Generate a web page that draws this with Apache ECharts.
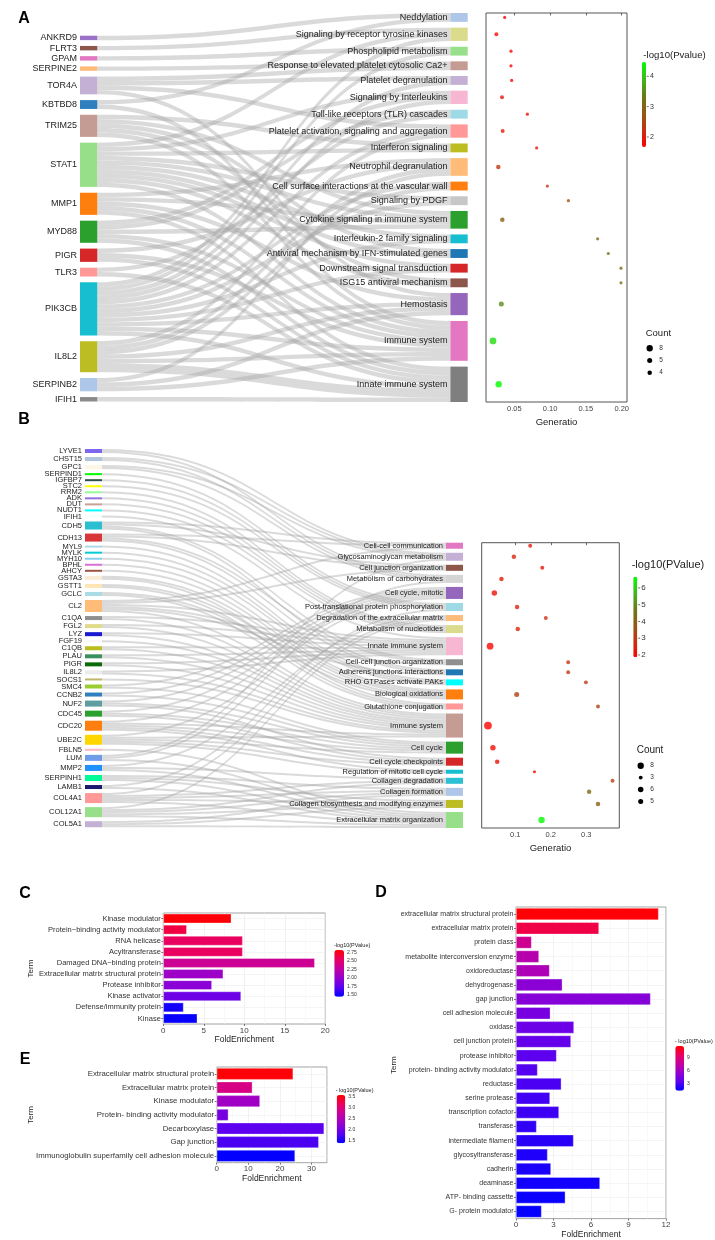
<!DOCTYPE html>
<html><head><meta charset="utf-8">
<script src="https://cdn.jsdelivr.net/npm/echarts@6/dist/echarts.min.js"></script>
<style>html,body{margin:0;padding:0;background:#fff}#c{width:715px;height:1240px}</style>
</head><body><div id="c"></div>
<script>
// ================= DATA =================
// ---- Panel A (Sankey + dot plot) ----
const genesA = ['ANKRD9','FLRT3','GPAM','SERPINE2','TOR4A','KBTBD8','TRIM25','STAT1','MMP1','MYD88','PIGR','TLR3','PIK3CB','IL8L2','SERPINB2','IFIH1'];
const pathwaysA = ['Neddylation','Signaling by receptor tyrosine kinases','Phospholipid metabolism','Response to elevated platelet cytosolic Ca2+','Platelet degranulation','Signaling by Interleukins','Toll-like receptors (TLR) cascades','Platelet activation, signaling and aggregation','Interferon signaling','Neutrophil degranulation','Cell surface interactions at the vascular wall','Signaling by PDGF','Cytokine signaling in immune system','Interleukin-2 family signaling','Antiviral mechanism by IFN-stimulated genes','Downstream signal transduction','ISG15 antiviral mechanism','Hemostasis','Immune system','Innate immune system'];
const linksA = [
 ['ANKRD9','Neddylation',1],['KBTBD8','Neddylation',1],
 ['FLRT3','Signaling by receptor tyrosine kinases',1],['STAT1','Signaling by receptor tyrosine kinases',1],['PIK3CB','Signaling by receptor tyrosine kinases',1],
 ['GPAM','Phospholipid metabolism',1],['PIK3CB','Phospholipid metabolism',1],
 ['SERPINE2','Response to elevated platelet cytosolic Ca2+',1],['TOR4A','Response to elevated platelet cytosolic Ca2+',1],
 ['TOR4A','Platelet degranulation',1],['PIK3CB','Platelet degranulation',1],
 ['STAT1','Signaling by Interleukins',1],['MYD88','Signaling by Interleukins',1],['PIK3CB','Signaling by Interleukins',1],
 ['MYD88','Toll-like receptors (TLR) cascades',1],['TLR3','Toll-like receptors (TLR) cascades',1],
 ['TOR4A','Platelet activation, signaling and aggregation',1],['PIK3CB','Platelet activation, signaling and aggregation',1],['IL8L2','Platelet activation, signaling and aggregation',1],
 ['TRIM25','Interferon signaling',1],['STAT1','Interferon signaling',1],
 ['MMP1','Neutrophil degranulation',1],['PIGR','Neutrophil degranulation',1],['IL8L2','Neutrophil degranulation',1],['SERPINB2','Neutrophil degranulation',1],
 ['PIK3CB','Cell surface interactions at the vascular wall',1],['IL8L2','Cell surface interactions at the vascular wall',1],
 ['STAT1','Signaling by PDGF',1],['PIK3CB','Signaling by PDGF',1],
 ['TRIM25','Cytokine signaling in immune system',1],['STAT1','Cytokine signaling in immune system',1],['MMP1','Cytokine signaling in immune system',1],['MYD88','Cytokine signaling in immune system',1],
 ['STAT1','Interleukin-2 family signaling',1],['PIK3CB','Interleukin-2 family signaling',1],
 ['TRIM25','Antiviral mechanism by IFN-stimulated genes',1],['STAT1','Antiviral mechanism by IFN-stimulated genes',1],
 ['STAT1','Downstream signal transduction',1],['PIK3CB','Downstream signal transduction',1],
 ['TRIM25','ISG15 antiviral mechanism',1],['STAT1','ISG15 antiviral mechanism',1],
 ['TOR4A','Hemostasis',1],['MMP1','Hemostasis',1],['PIK3CB','Hemostasis',1],['IL8L2','Hemostasis',1],['SERPINB2','Hemostasis',1],
 ['KBTBD8','Immune system',1],['TRIM25','Immune system',1],['STAT1','Immune system',1],['MMP1','Immune system',1],['MYD88','Immune system',1],['PIGR','Immune system',1],['PIK3CB','Immune system',1],['IL8L2','Immune system',1],['SERPINB2','Immune system',1],
 ['MMP1','Innate immune system',1],['MYD88','Innate immune system',1],['PIGR','Innate immune system',1],['TLR3','Innate immune system',1],['PIK3CB','Innate immune system',1],['IL8L2','Innate immune system',2],['IFIH1','Innate immune system',1]
];
const generatioA = [0.0365,0.0249,0.0453,0.0453,0.0463,0.0328,0.0682,0.0337,0.0812,0.0276,0.0961,0.1255,0.0332,0.1664,0.1813,0.199,0.199,0.0318,0.0202,0.0281];
const log10pA = [1.72,1.78,1.72,1.72,1.74,1.9,1.85,1.95,2.0,2.3,2.25,2.6,2.85,3.05,3.1,3.2,3.2,3.55,4.2,4.45];
const genTicksA = [0.05,0.10,0.15,0.20];
const colorTicksA = [2,3,4];
const countLegendA = [8,5,4];

// ---- Panel B (Sankey + dot plot) ----
const genesB = ['LYVE1','CHST15','GPC1','SERPIND1','IGFBP7','STC2','RRM2','ADK','DUT','NUDT1','IFIH1','CDH5','CDH13','MYL9','MYLK','MYH10','BPHL','AHCY','GSTA3','GSTT1','GCLC','CL2','C1QA','FGL2','LYZ','FGF19','C1QB','PLAU','PIGR','IL8L2','SOCS1','SMC4','CCNB2','NUF2','CDC45','CDC20','UBE2C','FBLN5','LUM','MMP2','SERPINH1','LAMB1','COL4A1','COL12A1','COL5A1'];
const pathwaysB = ['Cell-cell communication','Glycosaminoglycan metabolism','Cell junction organization','Metabolism of carbohydrates','Cell cycle, mitotic','Post-translational protein phosphorylation','Degradation of the extracellular matrix','Metabolism of nucleotides','Innate immune system','Cell-cell junction organization','Adherens junctions interactions','RHO GTPases activate PAKs','Biological oxidations','Glutathione conjugation','Immune system','Cell cycle','Cell cycle checkpoints','Regulation of mitotic cell cycle','Collagen degradation','Collagen formation','Collagen biosynthesis and modifying enzymes','Extracellular matrix organization'];
const membersB = [
 ['CDH5','CDH13','CL2'],
 ['LYVE1','CHST15','GPC1','LUM'],
 ['CDH5','CDH13','CL2'],
 ['LYVE1','CHST15','GPC1','LUM'],
 ['SMC4','CCNB2','NUF2','CDC45','CDC20','UBE2C'],
 ['SERPIND1','IGFBP7','STC2','LAMB1'],
 ['MMP2','COL4A1','COL12A1'],
 ['RRM2','ADK','DUT','NUDT1'],
 ['IFIH1','CL2','C1QA','FGL2','LYZ','C1QB','PLAU','PIGR','IL8L2'],
 ['CDH5','CDH13','CL2'],
 ['CDH5','CDH13','CL2'],
 ['MYL9','MYLK','MYH10'],
 ['BPHL','AHCY','GSTA3','GSTT1','GCLC'],
 ['GSTA3','GSTT1','GCLC'],
 ['CL2','C1QA','FGL2','LYZ','FGF19','C1QB','PLAU','PIGR','IL8L2','SOCS1','CDC20','UBE2C'],
 ['SMC4','CCNB2','NUF2','CDC45','CDC20','UBE2C'],
 ['NUF2','CDC45','CDC20','UBE2C'],
 ['CDC20','UBE2C'],
 ['MMP2','COL4A1','COL12A1'],
 ['COL4A1','COL12A1','COL5A1','SERPINH1'],
 ['COL4A1','COL12A1','COL5A1','SERPINH1'],
 ['LUM','MMP2','SERPINH1','LAMB1','COL4A1','COL12A1','COL5A1','FBLN5']
];
const generatioB = [0.142,0.096,0.176,0.061,0.041,0.105,0.186,0.107,0.029,0.249,0.249,0.299,0.104,0.333,0.023,0.037,0.049,0.154,0.374,0.308,0.333,0.174];
const log10pB = [2.3,2.6,2.3,2.4,2.2,2.6,2.7,2.6,2.0,2.9,2.9,3.0,3.2,3.2,1.95,2.1,2.1,1.95,3.1,4.2,4.0,6.6];
const genTicksB = [0.1,0.2,0.3];
const colorTicksB = [2,3,4,5,6];
const countLegendB = [8,3,6,5];

// ---- Panel C ----
const termsC = ['Kinase modulator','Protein\u2212binding activity modulator','RNA helicase','Acyltransferase','Damaged DNA\u2212binding protein','Extracellular matrix structural protein','Protease inhibitor','Kinase activator','Defense/immunity protein','Kinase'];
const foldC = [8.4,2.9,9.8,9.8,18.7,7.4,6.0,9.6,2.5,4.2];
const log10pC = [2.80,2.63,2.55,2.55,2.33,2.05,1.95,1.82,1.50,1.47];
const colorTicksC = [1.5,1.75,2.0,2.25,2.5,2.75];

// ---- Panel D ----
const termsD = ['extracellular matrix structural protein','extracellular matrix protein','protein class','metabolite interconversion enzyme','oxidoreductase','dehydrogenase','gap junction','cell adhesion molecule','oxidase','cell junction protein','protease inhibitor','protein- binding activity modulator','reductase','serine protease','transcription cofactor','transferase','intermediate filament','glycosyltransferase','cadherin','deaminase','ATP- binding cassette','G- protein modulator'];
const foldD = [11.41,6.64,1.25,1.84,2.69,3.71,10.77,2.75,4.64,4.40,3.25,1.73,3.63,2.72,3.44,1.65,4.61,2.53,2.80,6.72,3.95,2.05];
const log10pD = [11.6,10.2,8.1,7.0,6.6,5.2,5.0,4.5,4.1,3.8,3.5,3.3,3.1,2.9,2.8,2.5,2.3,2.1,2.0,1.8,1.6,1.5];
const colorTicksD = [3,6,9];

// ---- Panel E ----
const termsE = ['Extracellular matrix structural protein','Extracellular matrix protein','Kinase modulator','Protein- binding activity modulator','Decarboxylase','Gap junction','Immunoglobulin superfamily cell adhesion molecule'];
const foldE = [24.2,11.3,13.7,3.7,34.0,32.3,24.8];
const log10pE = [3.55,2.90,2.38,2.05,1.85,1.77,1.42];
const colorTicksE = [1.5,2.0,2.5,3.0,3.5];

// ================= STYLES / LAYOUT =================
const FF = 'Liberation Sans, Arial, Helvetica, sans-serif';
const geneColorsA = ['#9a72c8','#8c564b','#e377c2','#ffbb78','#c5b0d5','#2f7fbf','#c49c94','#98df8a','#ff7f0e','#2ca02c','#d62728','#ff9896','#17becf','#bcbd22','#aec7e8','#8a8a8a'];
const pathColorsA = ['#aec7e8','#dbdb8d','#98df8a','#c49c94','#c5b0d5','#f7b6d2','#9edae5','#ff9896','#bcbd22','#ffbb78','#ff7f0e','#c7c7c7','#2ca02c','#17becf','#1f77b4','#d62728','#8c564b','#9467bd','#e377c2','#7f7f7f'];
const geneColorsB = ['#7b68ee','#b0c4de','#fdf5e6','#00ff00','#2f4f4f','#ffff00','#98fb98','#9370db','#c9a097','#00ffff','#f0ffff','#2bbfd0','#d9363a','#add8e6','#00ced1','#87ceeb','#da70d6','#9a5448','#faebd7','#ffe4b5','#a8dbe3','#ffbb78','#8f8f8f','#e0dc8c','#1a1ad0','#f8f8ff','#bcbd22','#3c8f5f','#0a6a0a','#ececec','#bdb76b','#9acd32','#2f7fbf','#5f9ea0','#2ca02c','#ff7f0e','#ffd700','#ffb6c1','#6f9ce8','#1e90ff','#00fa9a','#191970','#ff9896','#98df8a','#c5b0d5'];
const pathColorsB = ['#e377c2','#c5b0d5','#8c564b','#d4d4d4','#9467bd','#9edae5','#ffbb78','#dbdb8d','#f7b6d2','#8f8f8f','#1f77b4','#00ffff','#ff7f0e','#ff9896','#c49c94','#2ca02c','#d62728','#17becf','#2bc0d4','#aec7e8','#bcbd22','#98df8a'];
const GR = ['#ff0000','#c83010','#905a10','#6a7a14','#40b81c','#00ff00'];
const BR = ['#0000ff','#5a00f0','#9400d0','#c400a0','#ea0060','#ff0000'];
const SIZE_K = 2.25;

const SA = {left:80, top:13, width:387.7, height:389, nodeWidth:17.3, gap:5.8, pad:3.82};
const SB = {left:85, top:449, width:378, height:379, nodeWidth:17, gap:4.04, pad:44.73};
const DA = {left:486, width:141};
const DB = {left:481.7, width:137.6};

// ================= DERIVED =================
function pathValues(paths, links){ return paths.map(p => links.filter(l=>l[1]===p).reduce((s,l)=>s+l[2],0)); }
const linksB = [];
membersB.forEach((gs,i)=>gs.forEach(g=>linksB.push([g, pathwaysB[i], 1])));
const valA = pathValues(pathwaysA, linksA);
const valB = pathValues(pathwaysB, linksB);
const totA = valA.reduce((a,b)=>a+b,0), totB = valB.reduce((a,b)=>a+b,0);
const kyA = Math.min((SA.height - genesA.length*SA.gap)/(totA+SA.pad), (SA.height-(pathwaysA.length-1)*SA.gap)/totA);
const kyB = Math.min((SB.height - (genesB.length-1)*SB.gap)/totB, (SB.height - pathwaysB.length*SB.gap)/(totB+SB.pad));
function centers(vals, ky, gap, start){ let y=start; return vals.map(v=>{const c=y+v*ky/2; y+=v*ky+gap; return c;}); }
const cenA = centers(valA, kyA, SA.gap, 0);
const offB = SB.pad*kyB + SB.gap;
const cenB = centers(valB, kyB, SB.gap, 0);
const dotTopB = SB.top + offB, dotHB = SB.height - offB;

const hidden = {show:false};
const nodesA = [{name:'padA', value:SA.pad, depth:0, itemStyle:{opacity:0}, label:hidden}]
  .concat(genesA.map((g,i)=>({name:g, itemStyle:{color:geneColorsA[i]}})))
  .concat(pathwaysA.map((p,i)=>({name:p, itemStyle:{color:pathColorsA[i]}})));
const nodesB = genesB.map((g,i)=>({name:g, itemStyle:{color:geneColorsB[i]}}))
  .concat([{name:'padB', value:SB.pad, depth:1, itemStyle:{opacity:0}, label:hidden}])
  .concat(pathwaysB.map((p,i)=>({name:p, itemStyle:{color:pathColorsB[i]}})));

const scatterA = pathwaysA.map((p,i)=>[generatioA[i], cenA[i], log10pA[i], valA[i], p]);
const scatterB = pathwaysB.map((p,i)=>[generatioB[i], cenB[i], log10pB[i], valB[i], p]);

// ================= GRIDS =================
const GC = {left:163.3, top:913, width:162, height:111};
const GD = {left:516, top:907, width:150, height:316.3};
const GE = {left:216.7, top:1067, width:110.3, height:95.7};
const VM = {
  A:{left:642, top:62, w:4, h:85, min:1.67, max:4.47},
  B:{left:633.3, top:576.7, w:4, h:80.6, min:1.86, max:6.67},
  C:{left:334.3, top:950, w:9.7, h:46.7, min:1.45, max:2.82},
  D:{left:675.3, top:1046, w:8.7, h:44.7, min:1.38, max:11.7},
  E:{left:336.7, top:1095, w:8.6, h:48.3, min:1.4, max:3.58}
};

function dotX(gridIndex, min, max, ticks, dec){
  return {type:'value', gridIndex, min, max, position:'bottom',
    axisLine:{show:false}, splitLine:{show:false}, minorTick:{show:false}, minorSplitLine:{show:false},
    axisTick:{show:true, inside:false, customValues:ticks, length:2.5, lineStyle:{color:'#444', width:0.8}},
    axisLabel:{customValues:ticks, formatter:v=>v.toFixed(dec), fontSize:7.5, color:'#444', margin:3, fontFamily:FF},
    name:'Generatio', nameLocation:'middle', nameGap:15, nameTextStyle:{fontSize:9.5, color:'#222', fontFamily:FF}};
}
function barX(gridIndex, max, interval, gap, fs){
  return {type:'value', gridIndex, min:0, max, interval, position:'bottom',
    axisLine:{show:false},
    axisTick:{show:true, length:2, lineStyle:{color:'#444', width:0.7}},
    axisLabel:{fontSize:fs, color:'#444', margin:2.5, fontFamily:FF, showMaxLabel: max % interval === 0},
    splitLine:{show:true, lineStyle:{color:'#e8e8e8', width:0.6}},
    minorTick:{show:false, splitNumber:2},
    minorSplitLine:{show:true, lineStyle:{color:'#f2f2f2', width:0.5}},
    name:'FoldEnrichment', nameLocation:'middle', nameGap:gap, nameTextStyle:{fontSize:8.5, color:'#222', fontFamily:FF}};
}
function barY(gridIndex, terms, fs){
  return {type:'category', gridIndex, data:terms, inverse:true,
    axisLine:{show:false},
    axisTick:{show:true, alignWithLabel:true, length:2, lineStyle:{color:'#444', width:0.7}},
    axisLabel:{fontSize:fs, color:'#333', margin:2.5, fontFamily:FF},
    splitLine:{show:true, alignWithLabel:true, lineStyle:{color:'#ececec', width:0.6}}};
}
function barSeries(idx, terms, fold, p){
  return {type:'bar', xAxisIndex:idx, yAxisIndex:idx, barCategoryGap:'14%', silent:true,
    encode:{x:0, y:1}, data: terms.map((t,i)=>[fold[i], t, p[i]]),
    itemStyle:{borderColor:'rgba(255,255,255,0.55)', borderWidth:0.6}};
}
function vm(cfg, seriesIndex, colors){
  return {type:'continuous', seriesIndex, dimension:2, min:cfg.min, max:cfg.max, calculable:false,
    left:cfg.left, top:cfg.top, itemWidth:cfg.w, itemHeight:cfg.h, padding:0, inRange:{color:colors}, hoverLink:false};
}

// ================= GRAPHIC (legends/labels) =================
const gfx = [];
function txt(x,y,text,size,opt){
  opt = opt||{};
  gfx.push({type:'text', x, y, rotation:opt.rot||0, silent:true, style:{text, fill:opt.color||'#222', fontSize:size, fontFamily:FF, fontWeight:opt.bold?'bold':'normal', align:opt.align||'left', textAlign:opt.align||'left', verticalAlign:'middle', textVerticalAlign:'middle'}});
}
[['A',24,19],['B',24,420],['C',25,894],['D',381,893],['E',25,1060]].forEach(l=>txt(l[1],l[2],l[0],16,{bold:true,color:'#000',align:'center'}));

function cbarTicks(cfg, ticks, fmt, size, dash){
  ticks.forEach(v=>{
    const y = cfg.top + (cfg.max - v)/(cfg.max-cfg.min)*cfg.h;
    const x0 = cfg.left + cfg.w;
    if (dash) gfx.push({type:'line', silent:true, shape:{x1:x0+0.8, y1:y, x2:x0+2.8, y2:y}, style:{stroke:'#333', lineWidth:0.7}});
    txt(x0 + (dash?4:3), y, fmt(v), size, {color:'#333'});
  });
}
txt(643.3, 55, '-log10(Pvalue)', 9.6);
cbarTicks(VM.A, colorTicksA, v=>String(v), 7, true);
txt(631.7, 565, '-log10(PValue)', 11);
cbarTicks(VM.B, colorTicksB, v=>String(v), 8, true);
txt(334, 945, '-log10(PValue)', 5.5);
cbarTicks(VM.C, colorTicksC, v=>v.toFixed(2), 5, false);
txt(675, 1041, '- log10(PValue)', 5.5);
cbarTicks(VM.D, colorTicksD, v=>String(v), 5, false);
txt(335.7, 1090, '- log10(PValue)', 5.5);
cbarTicks(VM.E, colorTicksE, v=>v.toFixed(1), 5, false);

function countLegend(x, y, vals, titleSize, step){
  txt(x, y, 'Count', titleSize);
  vals.forEach((v,i)=>{
    const cy = y + 15 + i*step;
    gfx.push({type:'circle', silent:true, shape:{cx:x+4, cy, r:SIZE_K*Math.sqrt(v)/2}, style:{fill:'#000'}});
    txt(x+13.5, cy, String(v), 6.5, {color:'#333'});
  });
}
countLegend(645.7, 333.3, countLegendA, 9.5, 12.2);
countLegend(636.7, 750.7, countLegendB, 10, 11.9);

txt(31, GC.top+GC.height/2, 'Term', 8, {rot:Math.PI/2, align:'center'});
txt(393.5, GD.top+GD.height/2, 'Term', 8, {rot:Math.PI/2, align:'center'});
txt(31, GE.top+GE.height/2, 'Term', 8, {rot:Math.PI/2, align:'center'});

// ================= OPTION =================
const option = {
  animation:false,
  backgroundColor:'#fff',
  textStyle:{fontFamily:FF},
  grid:[
    {left:DA.left, top:SA.top, width:DA.width, height:SA.height, show:true, borderColor:'#555', borderWidth:1, backgroundColor:'transparent'},
    {left:DB.left, top:dotTopB, width:DB.width, height:dotHB, show:true, borderColor:'#555', borderWidth:1, backgroundColor:'transparent'},
    Object.assign({show:true, borderColor:'#8c8c8c', borderWidth:0.8}, GC),
    Object.assign({show:true, borderColor:'#8c8c8c', borderWidth:0.8}, GD),
    Object.assign({show:true, borderColor:'#8c8c8c', borderWidth:0.8}, GE)
  ],
  xAxis:[
    dotX(0, 0.0104, 0.2074, genTicksA, 2),
    dotX(1, 0.0054, 0.393, genTicksB, 1),
    barX(2, 20, 5, 11, 8),
    barX(3, 12, 3, 9, 8),
    barX(4, 34.9, 10, 11, 8)
  ],
  yAxis:[
    {type:'value', gridIndex:0, min:0, max:SA.height, inverse:true, show:false},
    {type:'value', gridIndex:1, min:0, max:dotHB, inverse:true, show:false},
    barY(2, termsC, 7.5),
    barY(3, termsD, 7),
    barY(4, termsE, 7.8)
  ],
  visualMap:[ vm(VM.A,1,GR), vm(VM.B,3,GR), vm(VM.C,4,BR), vm(VM.D,5,BR), vm(VM.E,6,BR) ],
  series:[
    {type:'sankey', left:SA.left, top:SA.top, width:SA.width, height:SA.height,
     nodeWidth:SA.nodeWidth, nodeGap:SA.gap, nodeAlign:'left', layoutIterations:0, draggable:false, silent:true,
     emphasis:{disabled:true},
     label:{position:'left', distance:3, fontSize:9, color:'#222', fontFamily:FF},
     lineStyle:{color:'#a8a8a8', opacity:0.42, curveness:0.5},
     itemStyle:{borderWidth:0},
     data:nodesA, links:linksA.map(l=>({source:l[0], target:l[1], value:l[2]}))},
    {type:'scatter', xAxisIndex:0, yAxisIndex:0, silent:true, data:scatterA,
     symbolSize:d=>SIZE_K*Math.sqrt(d[3])},
    {type:'sankey', left:SB.left, top:SB.top, width:SB.width, height:SB.height,
     nodeWidth:SB.nodeWidth, nodeGap:SB.gap, nodeAlign:'left', layoutIterations:0, draggable:false, silent:true,
     emphasis:{disabled:true},
     label:{position:'left', distance:3, fontSize:7.5, color:'#222', fontFamily:FF},
     lineStyle:{color:'#a8a8a8', opacity:0.42, curveness:0.5},
     itemStyle:{borderWidth:0},
     data:nodesB, links:linksB.map(l=>({source:l[0], target:l[1], value:l[2]}))},
    {type:'scatter', xAxisIndex:1, yAxisIndex:1, silent:true, data:scatterB,
     symbolSize:d=>SIZE_K*Math.sqrt(d[3])},
    barSeries(2, termsC, foldC, log10pC),
    barSeries(3, termsD, foldD, log10pD),
    barSeries(4, termsE, foldE, log10pE)
  ],
  graphic:{elements:gfx}
};
const chart = echarts.init(document.getElementById('c'), null, {renderer:'canvas'});
chart.setOption(option);
</script></body></html>
